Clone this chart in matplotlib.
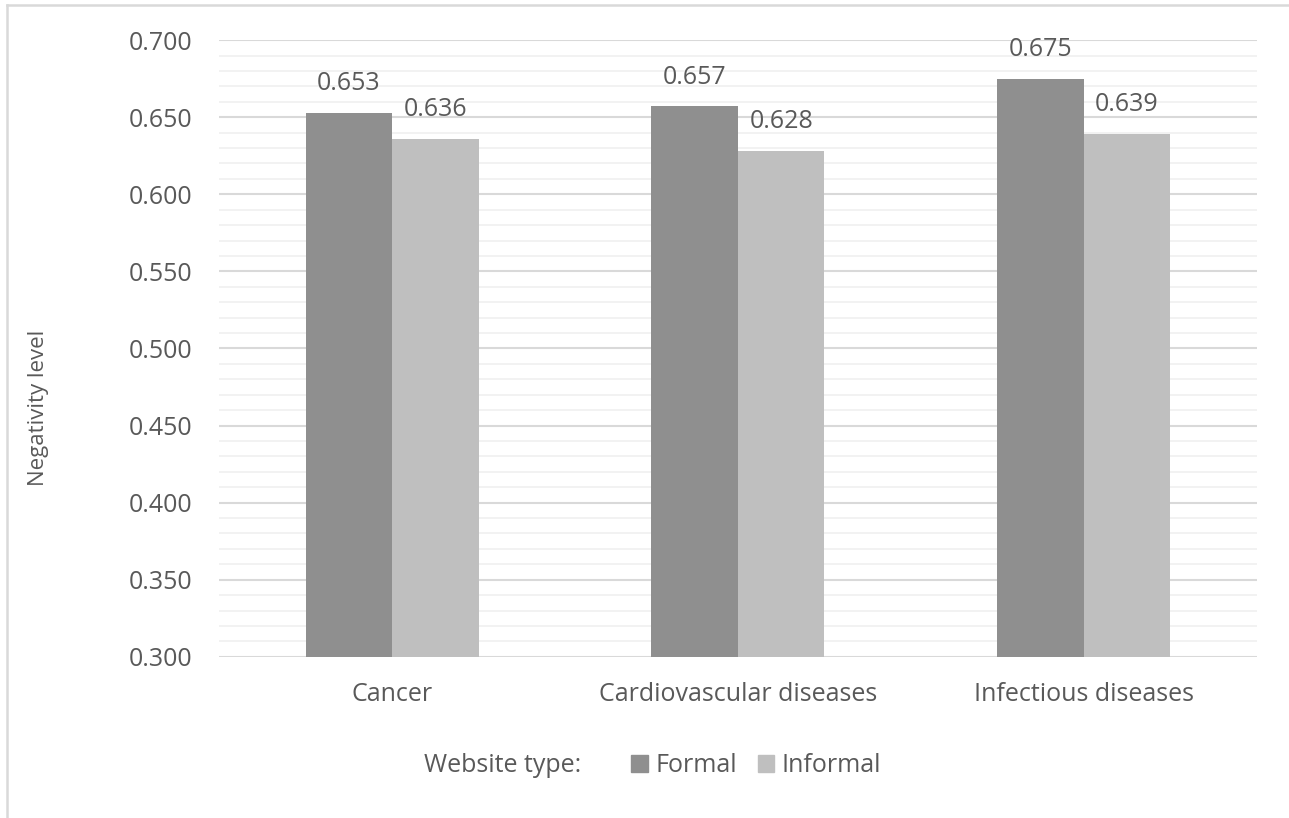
import matplotlib.pyplot as plt
import numpy as np
from matplotlib.lines import Line2D
from matplotlib.patches import Patch

categories = ["Cancer", "Cardiovascular diseases", "Infectious diseases"]
formal = [0.653, 0.657, 0.675]
informal = [0.636, 0.628, 0.639]

TEXT = "#595959"
C_FORMAL = "#8f8f8f"
C_INFORMAL = "#bfbfbf"

plt.rcParams['font.family'] = ['Open Sans', 'DejaVu Sans']

fig = plt.figure(figsize=(12.89, 8.18), dpi=100)
ax = fig.add_axes([0.170, 0.197, 0.805, 0.754])

x = np.arange(len(categories))
w = 0.25
b1 = ax.bar(x - w / 2, formal, w, color=C_FORMAL, zorder=3)
b2 = ax.bar(x + w / 2, informal, w, color=C_INFORMAL, zorder=3)

for bars, vals in ((b1, formal), (b2, informal)):
    for rect, v in zip(bars, vals):
        ax.annotate(f"{v:.3f}", (rect.get_x() + rect.get_width() / 2, v),
                    xytext=(0, 12), textcoords="offset points",
                    ha="center", va="bottom", fontsize=18, color=TEXT)

ax.set_xlim(-0.5, len(categories) - 0.5)
ax.set_ylim(0.3, 0.7)
ax.set_yticks(np.arange(0.3, 0.7001, 0.05))
ax.set_yticks(np.arange(0.3, 0.7001, 0.01), minor=True)
ax.yaxis.set_major_formatter(plt.FuncFormatter(lambda v, _: f"{v:.3f}"))
ax.set_xticks(x)
ax.set_xticklabels(categories)

ax.grid(axis="y", which="major", color="#d9d9d9", linewidth=1.5, zorder=0)
ax.grid(axis="y", which="minor", color="#f0f0f0", linewidth=1.2, zorder=0)
ax.tick_params(axis="both", which="both", length=0, labelsize=18, colors=TEXT)
ax.tick_params(axis="y", pad=19)
ax.tick_params(axis="x", pad=18)
for s in ax.spines.values():
    s.set_visible(False)

ax.set_ylabel("Negativity level", fontsize=16, color=TEXT)
ax.yaxis.set_label_coords(-0.164, 0.404)

# legend row under the axes
fig.text(0.329, 0.064, "Website type:", fontsize=18, color=TEXT, ha="left", va="center")
handles = [Patch(color=C_FORMAL, label="Formal"), Patch(color=C_INFORMAL, label="Informal")]
fig.legend(handles=handles, loc="center left", bbox_to_anchor=(0.482, 0.064), ncol=2,
           frameon=False, fontsize=18, labelcolor=TEXT, handlelength=0.65, handleheight=0.65,
           handletextpad=0.3, columnspacing=0.85, borderaxespad=0)

# outer chart border (top and left edges)
fig.add_artist(Line2D([7 / 1289, 7 / 1289], [0, 1 - 5 / 818], transform=fig.transFigure,
                      color="#d9d9d9", linewidth=1.8))
fig.add_artist(Line2D([7 / 1289, 1], [1 - 5 / 818, 1 - 5 / 818], transform=fig.transFigure,
                      color="#d9d9d9", linewidth=1.8))

fig.savefig("out.png", dpi=100)
